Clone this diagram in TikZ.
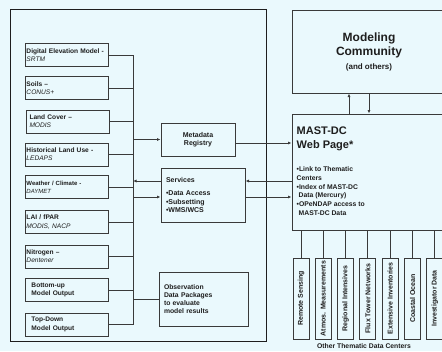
\documentclass[tikz,border=0pt]{standalone}
\usepackage{fontspec}
\setmainfont{Liberation Sans}
\usetikzlibrary{arrows.meta}
\definecolor{bgcolore}{HTML}{EAF9FD}
\definecolor{linecolore}{HTML}{3A3A3A}
\definecolor{inkcolore}{HTML}{1E1E1E}
\colorlet{bgcolor}{bgcolore}
\colorlet{linecolor}{linecolore}
\colorlet{inkcolor}{inkcolore}
\tikzstyle{framebox} = [
    draw=inkcolor,
    line width=0.8pt
    ]
\tikzstyle{srcbox} = [
    draw=linecolor,
    line width=1pt,
    rectangle,
    text=inkcolor,
    minimum width=83pt,
    minimum height=23pt,
    text width=80pt,
    inner xsep=1.5pt,
    inner ysep=1pt,
    align=left,
    font=\fontsize{6.6}{8.2}\selectfont
    ]
\tikzstyle{procbox} = [
    draw=linecolor,
    line width=1pt,
    rectangle,
    text=inkcolor,
    inner xsep=5pt,
    font=\bfseries\fontsize{7}{8.5}\selectfont
    ]
\tikzstyle{bigbox} = [
    draw=linecolor,
    line width=1pt,
    rectangle,
    text=inkcolor,
    inner sep=0pt
    ]
\tikzstyle{thembox} = [
    draw=linecolor,
    line width=1pt,
    rectangle,
    rotate=90,
    text=inkcolor,
    minimum width=81pt,
    minimum height=16pt,
    inner sep=1pt,
    font=\bfseries\fontsize{7}{8}\selectfont
    ]
\tikzstyle{link} = [
    draw=linecolor,
    line width=1pt
    ]
\tikzstyle{linkarrow} = [
    link,
    -{Latex[length=3.5pt,width=3pt]}
    ]

\begin{document}
\begin{tikzpicture}[x=1pt,y=-1pt]
\fill[bgcolor] (0,0) rectangle (442,351);
\useasboundingbox (0,0) rectangle (442,351);

% local data holdings
\draw[framebox] (10,9) rectangle (266,341);
\node [srcbox] (dem) at (66.5,55) {\textbf{Digital Elevation Model -}\\\textit{SRTM}};
\node [srcbox] (soils) at (66.5,88) {\textbf{Soils –}\\\textit{CONUS+}};
\node [srcbox] (lcover) at (67.5,121.5) {\hspace*{2pt}\textbf{Land Cover –}\\\hspace*{2pt}\textit{MODIS}};
\node [srcbox] (hist) at (66.5,154.5) {\textbf{Historical Land Use -}\\\textit{LEDAPS}};
\node [srcbox, font=\fontsize{6}{8}\selectfont] (wx) at (66.5,187) {\textbf{Weather / Climate -}\\\textit{DAYMET}};
\node [srcbox] (lai) at (66.5,222) {\textbf{LAI / fPAR}\\\textit{MODIS, NACP}};
\node [srcbox] (nitro) at (66.5,256.5) {\textbf{Nitrogen –}\\\textit{Dentener}};
\node [srcbox] (bup) at (66.5,290) {\hspace*{5pt}\textbf{Bottom-up}\\\hspace*{5pt}\textbf{Model Output}};
\node [srcbox] (tdown) at (66.5,324.5) {\hspace*{5pt}\textbf{Top-Down}\\\hspace*{5pt}\textbf{Model Output}};

\coordinate (bus) at (133,0);
\draw[link] (dem.east -| bus) -- (tdown.east -| bus);
\draw[link] (dem.east) -- (dem.east -| bus);
\draw[link] (soils.east) -- (soils.east -| bus);
\draw[link] (lcover.east) -- (lcover.east -| bus);
\draw[link] (hist.east) -- (hist.east -| bus);
\draw[link] (wx.east) -- (wx.east -| bus);
\draw[link] (lai.east) -- (lai.east -| bus);
\draw[link] (nitro.east) -- (nitro.east -| bus);
\draw[link] (bup.east) -- (bup.east -| bus);
\draw[link] (tdown.east) -- (tdown.east -| bus);

\node [procbox, minimum width=74pt, minimum height=33pt, align=center] (meta) at (198,139.5) {Metadata\\Registry};
\node [procbox, minimum width=84pt, minimum height=54pt, text width=74pt, align=left] (serv) at (203,195) {Services\\[5pt]\textbullet Data Access\\\textbullet Subsetting\\\textbullet WMS/WCS};
\node [procbox, minimum width=89pt, minimum height=54pt, text width=79pt, align=left, font=\bfseries\fontsize{6.8}{8}\selectfont] (obs) at (203.5,299) {Observation\\Data Packages\\to evaluate\\model results};

% web page and community
\node [bigbox, minimum width=154pt, minimum height=83pt, align=center, font=\bfseries\fontsize{12}{14}\selectfont] (model) at (369,51.5) {Modeling\\Community\\\fontsize{8}{10}\selectfont (and others)};
\node [bigbox, minimum width=154pt, minimum height=116pt] (mast) at (369,172) {};
\node [anchor=north west, inner sep=0pt, align=left, text=inkcolor, font=\bfseries\fontsize{11}{14}\selectfont] (masttitle) at ([xshift=5pt,yshift=-13pt]mast.north west) {MAST-DC\\Web Page*};
\node [anchor=north west, inner sep=0pt, align=left, text=inkcolor, font=\bfseries\fontsize{6.8}{8.7}\selectfont] (mastlist) at ([xshift=5pt,yshift=-53pt]mast.north west) {\textbullet Link to Thematic\\Centers\\\textbullet Index of MAST-DC\\\hspace*{2pt}Data (Mercury)\\\textbullet OPeNDAP access to\\\hspace*{2pt}MAST-DC Data};

\draw[linkarrow] ([xshift=-20pt]mast.north) -- ([xshift=-20pt]model.south);
\draw[linkarrow] (model.south) -- (mast.north);

% connectors of the middle column
\coordinate (metaeast) at ([yshift=-3.5pt]meta.east);
\coordinate (servwa) at ([yshift=14pt]serv.west);
\coordinate (servwb) at ([yshift=-2pt]serv.west);
\coordinate (servea) at ([yshift=14pt]serv.east);
\coordinate (serveb) at ([yshift=-2pt]serv.east);
\draw[linkarrow] (meta.west -| bus) -- (meta.west);
\draw[linkarrow] (metaeast) -- (metaeast -| mast.west);
\draw[linkarrow] (servwa) -- (servwa -| bus);
\draw[linkarrow] (servwb -| bus) -- (servwb);
\draw[linkarrow] (servea -| mast.west) -- (servea);
\draw[linkarrow] (serveb) -- (serveb -| mast.west);
\draw[link] (obs.west -| bus) -- (obs.west);

% thematic data centers
\node [thembox] (rsense) at (301,298.5) {Remote Sensing};
\node [thembox] (atmos) at (323.3,298.5) {Atmos. Measurements};
\node [thembox] (region) at (345.6,298.5) {Regional Intensives};
\node [thembox] (flux) at (367.9,298.5) {Flux Tower Networks};
\node [thembox] (extinv) at (390.2,298.5) {Extensive Inventories};
\node [thembox] (coast) at (412.5,298.5) {Coastal Ocean};
\node [thembox] (invest) at (434.8,298.5) {Investigator Data};
\draw[link] (rsense.east |- mast.south) -- (rsense.east);
\draw[link] (atmos.east |- mast.south) -- (atmos.east);
\draw[link] (region.east |- mast.south) -- (region.east);
\draw[link] (flux.east |- mast.south) -- (flux.east);
\draw[link] (extinv.east |- mast.south) -- (extinv.east);
\draw[link] (coast.east |- mast.south) -- (coast.east);
\draw[link] (invest.east |- mast.south) -- (invest.east);
\node [text=inkcolor, inner sep=0pt, font=\bfseries\fontsize{6.8}{8}\selectfont] (themcap) at (364,346.5) {Other Thematic Data Centers};
\end{tikzpicture}
\end{document}
